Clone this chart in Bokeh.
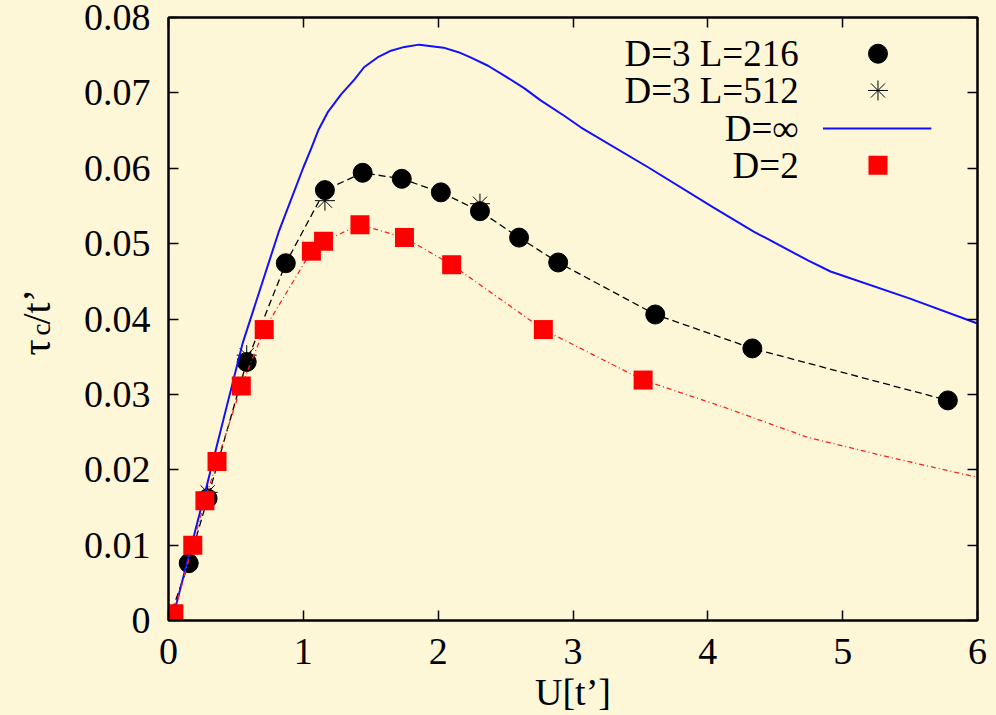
import math
from bokeh.plotting import figure
from bokeh.layouts import row
from bokeh.models import Range1d, LinearAxis, FixedTicker, CustomJSTickFormatter
from bokeh.core.properties import value
from bokeh.embed import file_html
from bokeh.resources import INLINE

# ---------------- data ----------------
# D=3 L=216 (black circles, dashed guide line)
l216_x = [0.0, 0.15, 0.29, 0.58, 0.87, 1.16, 1.44, 1.73, 2.02, 2.31, 2.60, 2.89, 3.61, 4.33, 5.78]
l216_y = [0.0, 0.0076, 0.0162, 0.0343, 0.0474, 0.0571, 0.0594, 0.0586, 0.0568, 0.0543, 0.0508, 0.0475, 0.0406, 0.0361, 0.0292]

# D=3 L=512 (asterisks)
l512_x = [0.29, 0.58, 1.16, 2.31]
l512_y = [0.0170, 0.0352, 0.0557, 0.0553]

# D=infinity (blue solid curve)
dinf_x = [0.02, 0.06, 0.28, 0.55, 0.82, 1.00, 1.06, 1.11, 1.18, 1.28, 1.38, 1.45, 1.55, 1.65, 1.75, 1.86,
          2.04, 2.15, 2.24, 2.37, 2.49, 2.64, 2.76, 2.94, 3.06, 3.56, 4.04, 4.34, 4.75, 4.91, 5.50, 6.00]
dinf_y = [0.0, 0.0023, 0.0176, 0.0368, 0.0517, 0.0601, 0.0627, 0.0650, 0.0674, 0.0698, 0.0718, 0.0734,
          0.0747, 0.0756, 0.0761, 0.0764, 0.0760, 0.0754, 0.0747, 0.0736, 0.0723, 0.0706, 0.0690, 0.0669,
          0.0654, 0.0601, 0.0548, 0.0516, 0.0477, 0.0463, 0.0427, 0.0394]

# D=2 (red squares)
d2_x = [0.0, 0.04, 0.18, 0.27, 0.36, 0.54, 0.71, 1.06, 1.15, 1.42, 1.75, 2.10, 2.78, 3.52]
d2_y = [0.0, 0.0009, 0.0100, 0.0159, 0.0211, 0.0311, 0.0386, 0.0490, 0.0503, 0.0525, 0.0508, 0.0472, 0.0386, 0.0319]
# D=2 guide curve continuation beyond the last point
d2_tail_x = [4.12, 4.74, 5.36, 6.00]
d2_tail_y = [0.0283, 0.0243, 0.0216, 0.0190]

x_ticks = [0, 1, 2, 3, 4, 5, 6]
x_tick_labels = ["0", "1", "2", "3", "4", "5", "6"]
y_ticks = [0.0, 0.01, 0.02, 0.03, 0.04, 0.05, 0.06, 0.07, 0.08]
y_tick_labels = ["0", "0.01", "0.02", "0.03", "0.04", "0.05", "0.06", "0.07", "0.08"]

legend_labels = ["D=3 L=216", "D=3 L=512", "D=\u221e", "D=2"]
x_title = "U[t\u2019]"
y_title_parts = ["\u03c4", "c", "/t\u2019"]   # tau, subscript c, /t'

# ---------------- styling ----------------
BG = "#fdf7d8"
FONT = "Liberation Serif"
FS = "38px"
W, H = 996, 715
TITLE_W = 80          # width of the strip that holds the rotated y title
BORDER_T, BORDER_B = 17, 95

p = figure(width=W - TITLE_W, height=H, output_backend="svg", toolbar_location=None,
           x_range=Range1d(0, 6), y_range=Range1d(0, 0.08),
           min_border_left=167 - TITLE_W, min_border_right=19,
           min_border_top=BORDER_T, min_border_bottom=BORDER_B,
           background_fill_color=BG, border_fill_color=BG)
p.grid.visible = False
p.outline_line_color = "black"
p.outline_line_width = 2

p.extra_x_ranges = {"lx": Range1d(0, 1)}
p.extra_y_ranges = {"ly": Range1d(0, 1)}


def style_axis(ax, ticks, labels=None):
    ax.ticker = FixedTicker(ticks=ticks)
    ax.major_tick_in = 10
    ax.major_tick_out = 0
    ax.minor_tick_line_color = None
    ax.major_tick_line_width = 1.5
    ax.major_tick_line_color = "black"
    ax.axis_line_color = "black"
    ax.axis_line_width = 2
    ax.major_label_text_font = FONT
    ax.major_label_text_font_size = FS
    ax.major_label_text_color = "black"
    if labels is not None:
        ax.major_label_overrides = {t: l for t, l in zip(ticks, labels)}
    else:
        ax.formatter = CustomJSTickFormatter(code="return ''")
        ax.major_label_text_font_size = "1px"
        ax.major_label_standoff = 0


style_axis(p.xaxis[0], x_ticks, x_tick_labels)
style_axis(p.yaxis[0], y_ticks, y_tick_labels)
p.xaxis[0].major_label_standoff = 18
p.yaxis[0].major_label_standoff = 18
p.xaxis[0].axis_label = x_title
p.xaxis[0].axis_label_text_font = FONT
p.xaxis[0].axis_label_text_font_size = FS
p.xaxis[0].axis_label_text_font_style = "normal"
p.xaxis[0].axis_label_text_color = "black"
p.xaxis[0].axis_label_standoff = 4

top_ax = LinearAxis()
right_ax = LinearAxis()
style_axis(top_ax, x_ticks)
style_axis(right_ax, y_ticks)
p.add_layout(top_ax, "above")
p.add_layout(right_ax, "right")

# ---------------- glyphs ----------------
p.line(l216_x, l216_y, line_color="black", line_width=1.3, line_dash="7 4")
p.scatter(l216_x, l216_y, marker="circle", size=19, fill_color="black", line_color="black")
p.scatter(l512_x, l512_y, marker="asterisk", size=20, line_color="black", line_width=1)
p.line(dinf_x, dinf_y, line_color="#1010ff", line_width=2)
p.line(d2_x + d2_tail_x, d2_y + d2_tail_y, line_color="#ff2020", line_width=1.3, line_dash="5 3 1 3")
p.scatter(d2_x, d2_y, marker="square", size=19, fill_color="#ff0000", line_color="#ff0000", line_width=0)

# ---------------- legend (frame-relative coordinates) ----------------
leg_text_x = [0.779] * 4
leg_y = [0.940, 0.879, 0.816, 0.755]
p.text(leg_text_x, leg_y, text=legend_labels, x_range_name="lx", y_range_name="ly",
       text_align="right", text_baseline="middle", text_font=value(FONT),
       text_font_size=value("37px"), text_color="black")
p.scatter([0.877], [leg_y[0]], x_range_name="lx", y_range_name="ly", marker="circle", size=19,
          fill_color="black", line_color="black")
p.scatter([0.877], [leg_y[1]], x_range_name="lx", y_range_name="ly", marker="asterisk", size=20,
          line_color="black", line_width=1)
p.line([0.809, 0.943], [leg_y[2], leg_y[2]], x_range_name="lx", y_range_name="ly",
       line_color="#1010ff", line_width=2)
p.scatter([0.877], [leg_y[3]], x_range_name="lx", y_range_name="ly", marker="square", size=19,
          fill_color="#ff0000", line_color="#ff0000", line_width=0)

# ---------------- rotated y title in a narrow strip ----------------
# the strip's frame is aligned with the main frame (rows align frames), so its y range
# is set so that a value equals (H - page pixel row)
yt = figure(width=TITLE_W, height=H, output_backend="svg", toolbar_location=None,
            x_range=Range1d(0, TITLE_W), y_range=Range1d(BORDER_B, H - BORDER_T),
            x_axis_location=None, y_axis_location=None,
            min_border=0, min_border_top=BORDER_T, min_border_bottom=BORDER_B,
            background_fill_color=BG, border_fill_color=BG)
yt.grid.visible = False
yt.outline_line_color = None
rot = math.pi / 2
yt.text([36], [H - 355], text=[y_title_parts[0]], angle=rot, text_align="left",
        text_baseline="alphabetic", text_font=value(FONT), text_font_size=value("40px"), text_color="black")
yt.text([40], [H - 335], text=[y_title_parts[1]], angle=rot, text_align="left",
        text_baseline="alphabetic", text_font=value(FONT), text_font_size=value("27px"), text_color="black")
yt.text([36], [H - 324], text=[y_title_parts[2]], angle=rot, text_align="left",
        text_baseline="alphabetic", text_font=value(FONT), text_font_size=value("40px"), text_color="black")

layout = row(yt, p, spacing=0)
html = file_html(layout, INLINE)
html = html.replace("</head>", "<style>html,body{background:%s;}</style></head>" % BG, 1)
open("out.html", "w").write(html)
